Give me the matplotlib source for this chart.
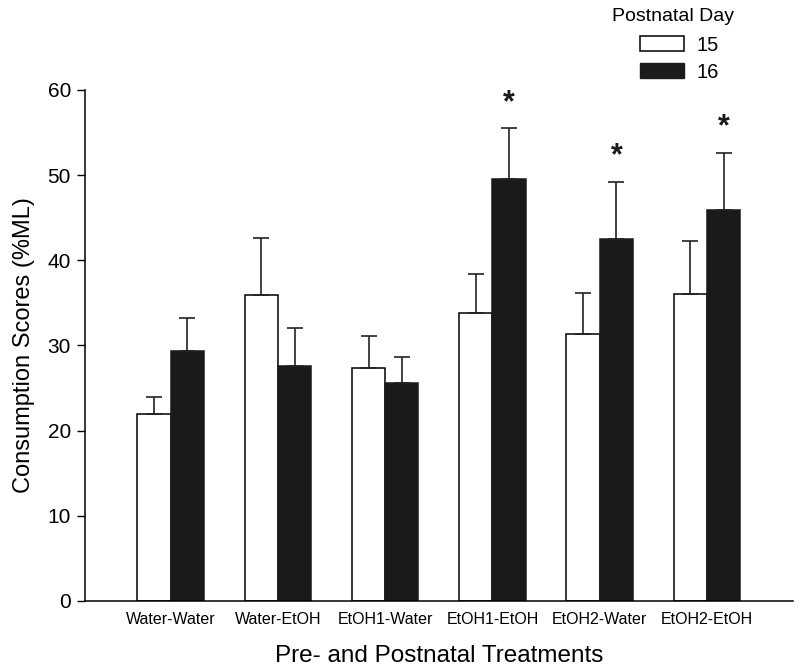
import numpy as np
import matplotlib
matplotlib.use("Agg")
from matplotlib import pyplot as plt
from matplotlib.patches import Patch

plt.rcParams['font.family'] = ['Liberation Sans', 'DejaVu Sans']

groups = ["Water-Water", "Water-EtOH", "EtOH1-Water", "EtOH1-EtOH", "EtOH2-Water", "EtOH2-EtOH"]
day15 = [21.9, 35.9, 27.3, 33.8, 31.3, 36.1]
day15_err = [2.1, 6.7, 3.8, 4.6, 4.9, 6.2]
day16 = [29.4, 27.6, 25.6, 49.5, 42.5, 45.9]
day16_err = [3.8, 4.4, 3.1, 6.0, 6.7, 6.7]
significant = [False, False, False, True, True, True]

fig = plt.figure(figsize=(8, 6.72), dpi=100)
ax = fig.add_axes([0.106, 0.1057, 0.885, 0.7604])

x = np.arange(len(groups))
w = 0.31

ax.bar(x - w / 2, day15, w, color="white", edgecolor="black", linewidth=1.1, zorder=2)
ax.bar(x + w / 2, day16, w, color="#1a1a1a", edgecolor="#1a1a1a", linewidth=1.1, zorder=2)

ax.errorbar(x - w / 2, day15, yerr=[np.zeros(len(x)), day15_err], fmt="none",
            ecolor="#222222", elinewidth=1.2, capsize=5.5, capthick=1.2, zorder=3)
ax.errorbar(x + w / 2, day16, yerr=[np.zeros(len(x)), day16_err], fmt="none",
            ecolor="#222222", elinewidth=1.2, capsize=5.5, capthick=1.2, zorder=3)

for i in range(len(groups)):
    if significant[i]:
        ax.text(x[i] + w / 2, day16[i] + day16_err[i] + 3.0, "*", ha="center", va="center",
                fontsize=22, fontweight="bold", color="#1a1a1a")

ax.set_xlim(-0.8, 5.8)
ax.set_ylim(0, 60)
ax.set_yticks(range(0, 61, 10))
ax.set_xticks(x)
ax.set_xticklabels(groups, fontsize=11.5)
ax.tick_params(axis="x", length=0, pad=8)
ax.tick_params(axis="y", labelsize=15, length=6, width=1, direction="out", pad=4)

for s in ["top", "right"]:
    ax.spines[s].set_visible(False)
for s in ["left", "bottom"]:
    ax.spines[s].set_linewidth(1.1)

ax.set_ylabel("Consumption Scores (%ML)", fontsize=17, labelpad=9)
ax.set_xlabel("Pre- and Postnatal Treatments", fontsize=17.5, labelpad=13)

fig.text(0.765, 0.976, "Postnatal Day", fontsize=14, ha="left", va="center")
handles = [Patch(facecolor="white", edgecolor="black", linewidth=1.1, label="15"),
           Patch(facecolor="#1a1a1a", edgecolor="#1a1a1a", label="16")]
fig.legend(handles=handles, loc="upper left", bbox_to_anchor=(0.8, 0.947), frameon=False,
           fontsize=14.5, handlelength=2.2, handleheight=0.72, labelspacing=0.4,
           handletextpad=0.6, borderpad=0, borderaxespad=0)

plt.savefig("out.png", dpi=100)
